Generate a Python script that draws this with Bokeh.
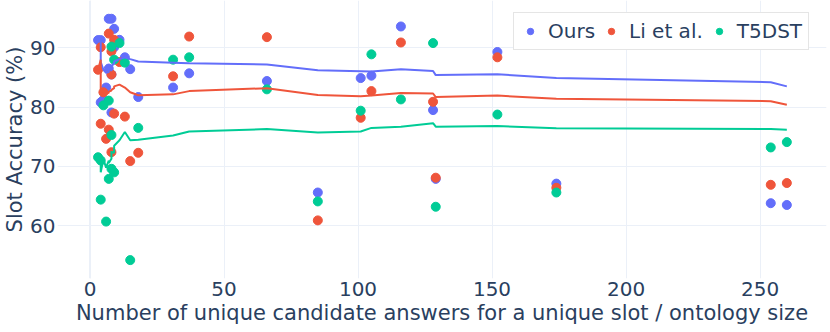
from bokeh.plotting import figure
from bokeh.models import ColumnDataSource, Legend, LegendItem, Span, FixedTicker, Range1d
from bokeh.embed import file_html
from bokeh.resources import INLINE

# ---- data ----
slot_x = [3, 4, 4, 5, 6, 7, 7, 8, 8, 8, 9, 9, 11, 13, 15, 18, 31, 37, 66, 85,
          101, 105, 116, 128, 129, 152, 174, 254, 260]

ours = [91.3, 91.3, 80.8, 81.2, 83.3, 86.5, 94.9, 79.1, 94.9, 85.5, 93.2, 90.1,
        91.35, 88.4, 86.4, 81.7, 83.3, 85.7, 84.4, 65.6, 84.9, 85.3, 93.6, 79.5,
        67.9, 89.3, 67.1, 63.8, 63.5]
li = [86.3, 90.1, 77.2, 82.5, 74.65, 76.2, 92.4, 85.5, 89.4, 72.4, 78.9, 91.35,
      87.6, 78.4, 70.9, 72.3, 85.2, 91.9, 91.8, 60.9, 78.2, 82.7, 90.9, 80.9,
      68.1, 88.4, 66.4, 66.9, 67.2]
t5dst = [71.55, 71.0, 64.4, 80.3, 60.7, 81.1, 67.9, 75.3, 90.2, 69.6, 69.0, 88.0,
         90.8, 87.5, 54.2, 76.5, 88.0, 88.4, 83.0, 64.1, 79.4, 88.9, 81.3, 90.8,
         63.2, 78.75, 65.6, 73.2, 74.1]

# trend lines (at each slot position)
ours_trend = [91.3, 91.3, 87.6, 86.3, 85.8, 85.9, 86.9, 86.1, 87.0, 86.9, 87.4, 87.7,
              88.1, 88.4, 88.1, 87.7, 87.5, 87.4, 87.2, 86.2, 86.05, 86.0, 86.4, 86.1,
              85.4, 85.55, 84.9, 84.2, 83.5]
li_trend = [86.3, 88.0, 83.0, 82.6, 82.3, 82.4, 82.6, 82.8, 83.0, 82.9, 83.2, 83.5,
            83.8, 83.3, 82.5, 82.0, 82.15, 82.7, 83.2, 82.05, 81.85, 81.95, 82.4, 82.3,
            81.7, 81.95, 81.4, 81.0, 80.4]
t5_trend = [71.55, 71.3, 69.0, 71.2, 69.8, 71.0, 70.6, 71.3, 72.6, 72.4, 72.3, 73.5,
            74.4, 75.8, 74.4, 74.5, 75.2, 75.9, 76.3, 75.7, 75.9, 76.5, 76.7, 77.3,
            76.7, 76.8, 76.45, 76.3, 76.2]

series_names = ["Ours", "Li et al.", "T5DST"]
x_ticks = [0, 50, 100, 150, 200, 250]
y_ticks = [60, 70, 80, 90]

colors = ["#636EFA", "#EF553B", "#00CC96"]
TXT = "#2a3f5f"
GRID = "#EBF0F8"
FONT = "DejaVu Sans"

p = figure(width=830, height=332, output_backend="svg", toolbar_location=None,
           x_range=Range1d(-12.13, 274.8), y_range=Range1d(51.10, 97.98),
           min_border_left=57, min_border_right=4, min_border_top=0, min_border_bottom=54)
p.outline_line_color = None
p.background_fill_color = "white"
p.border_fill_color = "white"

for ax in (p.xaxis[0], p.yaxis[0]):
    ax.axis_line_color = None
    ax.major_tick_line_color = None
    ax.minor_tick_line_color = None
    ax.major_tick_out = 0
    ax.major_tick_in = 0
    ax.major_label_text_font = FONT
    ax.major_label_text_font_size = "20px"
    ax.major_label_text_color = TXT
    ax.axis_label_text_font = FONT
    ax.axis_label_text_font_size = "21px"
    ax.axis_label_text_font_style = "normal"
    ax.axis_label_text_color = TXT

p.xaxis.ticker = FixedTicker(ticks=x_ticks)
p.yaxis.ticker = FixedTicker(ticks=y_ticks)
p.xaxis.axis_label = "Number of unique candidate answers for a unique slot / ontology size"
p.yaxis.axis_label = "Slot Accuracy (%)"
p.xaxis.major_label_standoff = 3
p.xaxis.axis_label_standoff = 2
p.yaxis.major_label_standoff = 2
p.yaxis.axis_label_standoff = 0

p.xgrid.grid_line_color = GRID
p.ygrid.grid_line_color = GRID
p.xgrid.grid_line_width = 1
p.ygrid.grid_line_width = 1
p.add_layout(Span(location=0, dimension="height", line_color=GRID, line_width=2))

src = ColumnDataSource(dict(x=slot_x, ours=ours, li=li, t5=t5dst,
                            ours_t=ours_trend, li_t=li_trend, t5_t=t5_trend))

items = []
for col, name, c in zip(["ours", "li", "t5"], series_names, colors):
    r = p.scatter("x", col, source=src, size=9, color=c, line_color=c)
    items.append(LegendItem(label=name, renderers=[r]))
for col, c in zip(["ours_t", "li_t", "t5_t"], colors):
    p.line("x", col, source=src, line_color=c, line_width=2)

legend = Legend(items=items, orientation="horizontal", location=(456, 228))
legend.label_text_font = FONT
legend.label_text_font_size = "20px"
legend.label_text_color = TXT
legend.border_line_color = "#cccccc"
legend.border_line_width = 1
legend.background_fill_color = "white"
legend.background_fill_alpha = 1
legend.glyph_width = 20
legend.glyph_height = 16
legend.label_height = 16
legend.label_standoff = 8
legend.spacing = 6
legend.padding = 6
legend.margin = 0
p.add_layout(legend)

open("out.html", "w").write(file_html(p, INLINE))
